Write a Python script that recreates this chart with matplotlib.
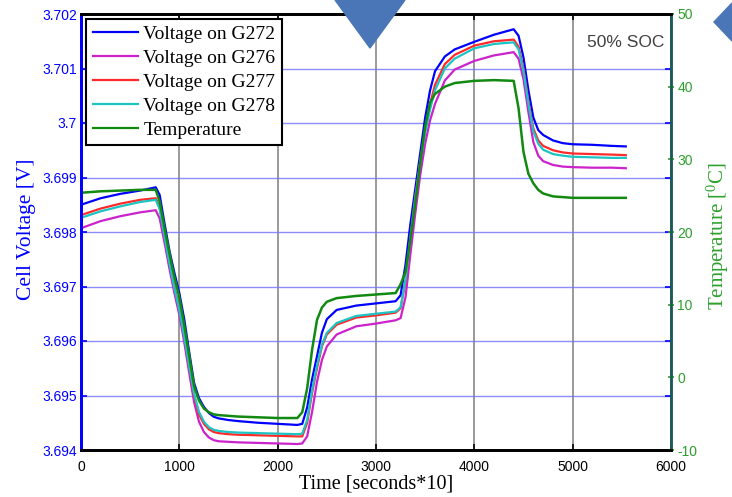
import matplotlib
matplotlib.use("Agg")
import matplotlib.pyplot as plt
from matplotlib.lines import Line2D
from matplotlib.patches import Polygon

# ---------------- data ----------------
time = [0, 200, 400, 600, 760, 800, 850, 900, 950, 1000, 1050, 1100, 1150, 1200,
        1250, 1300, 1350, 1400, 1500, 1600, 1800, 2000, 2200, 2250, 2300, 2350,
        2400, 2450, 2500, 2600, 2800, 3000, 3200, 3250, 3300, 3350, 3400, 3450,
        3500, 3550, 3600, 3700, 3800, 4000, 4200, 4400, 4450, 4500, 4550, 4600,
        4650, 4700, 4800, 4900, 5000, 5200, 5400, 5540]

v_g272 = [3.69850, 3.69862, 3.69870, 3.69876, 3.69882, 3.69868, 3.69815, 3.69765,
          3.69725, 3.69688, 3.69640, 3.69580, 3.69523, 3.69495, 3.69479, 3.69468,
          3.69461, 3.69458, 3.69455, 3.69453, 3.69450, 3.69448, 3.69446, 3.69448,
          3.69478, 3.69530, 3.69572, 3.69615, 3.69640, 3.69657, 3.69665, 3.69669,
          3.69673, 3.69684, 3.69740, 3.69815, 3.69880, 3.69945, 3.70010, 3.70060,
          3.70095, 3.70122, 3.70135, 3.70149, 3.70162, 3.70172, 3.70160, 3.70120,
          3.70060, 3.70010, 3.69987, 3.69978, 3.69968, 3.69963, 3.69961, 3.69960,
          3.69958, 3.69957]

v_g276 = [3.69807, 3.69820, 3.69829, 3.69836, 3.69840, 3.69825, 3.69780, 3.69732,
          3.69688, 3.69648, 3.69598, 3.69542, 3.69488, 3.69452, 3.69433, 3.69423,
          3.69418, 3.69416, 3.69415, 3.69414, 3.69413, 3.69412, 3.69411, 3.69412,
          3.69425, 3.69470, 3.69525, 3.69565, 3.69590, 3.69612, 3.69627, 3.69632,
          3.69638, 3.69642, 3.69680, 3.69760, 3.69835, 3.69905, 3.69962, 3.70005,
          3.70035, 3.70078, 3.70098, 3.70114, 3.70124, 3.70130, 3.70118, 3.70080,
          3.70020, 3.69965, 3.69940, 3.69930, 3.69923, 3.69920, 3.69919, 3.69918,
          3.69918, 3.69917]

v_g277 = [3.69831, 3.69843, 3.69852, 3.69859, 3.69862, 3.69845, 3.69795, 3.69745,
          3.69700, 3.69660, 3.69610, 3.69555, 3.69500, 3.69465, 3.69448, 3.69438,
          3.69433, 3.69431, 3.69429, 3.69428, 3.69427, 3.69426, 3.69425, 3.69425,
          3.69450, 3.69505, 3.69550, 3.69590, 3.69612, 3.69630, 3.69643, 3.69647,
          3.69652, 3.69660, 3.69710, 3.69790, 3.69865, 3.69930, 3.69988, 3.70035,
          3.70070, 3.70108, 3.70125, 3.70142, 3.70150, 3.70153, 3.70140, 3.70100,
          3.70040, 3.69990, 3.69968, 3.69958, 3.69950, 3.69946, 3.69944, 3.69943,
          3.69942, 3.69941]

v_g278 = [3.69826, 3.69838, 3.69847, 3.69855, 3.69859, 3.69842, 3.69792, 3.69742,
          3.69697, 3.69657, 3.69608, 3.69555, 3.69503, 3.69470, 3.69452, 3.69442,
          3.69437, 3.69435, 3.69433, 3.69432, 3.69431, 3.69430, 3.69429, 3.69430,
          3.69455, 3.69510, 3.69555, 3.69593, 3.69615, 3.69633, 3.69646, 3.69650,
          3.69654, 3.69662, 3.69712, 3.69790, 3.69862, 3.69928, 3.69982, 3.70025,
          3.70060, 3.70100, 3.70118, 3.70137, 3.70145, 3.70148, 3.70135, 3.70095,
          3.70035, 3.69985, 3.69962, 3.69951, 3.69943, 3.69940, 3.69938, 3.69937,
          3.69936, 3.69936]

temperature = [25.4, 25.6, 25.7, 25.8, 25.8, 24.2, 20.5, 17.0, 13.8, 11.0, 7.2, 3.0,
               -1.2, -3.2, -4.3, -4.8, -5.1, -5.2, -5.3, -5.4, -5.5, -5.6, -5.6, -4.8,
               -1.5, 3.8, 7.9, 9.6, 10.4, 10.9, 11.2, 11.4, 11.6, 12.8, 14.5, 19.0,
               24.0, 29.5, 34.5, 37.8, 39.0, 40.0, 40.5, 40.8, 40.9, 40.8, 37.0, 31.0,
               28.0, 26.7, 25.8, 25.3, 24.9, 24.8, 24.7, 24.7, 24.7, 24.7]

labels = ["Voltage on G272", "Voltage on G276", "Voltage on G277",
          "Voltage on G278", "Temperature"]
x_ticks = [0, 1000, 2000, 3000, 4000, 5000, 6000]
v_ticks = [3.694, 3.695, 3.696, 3.697, 3.698, 3.699, 3.700, 3.701, 3.702]
v_ticklabels = ["3.694", "3.695", "3.696", "3.697", "3.698", "3.699", "3.7",
                "3.701", "3.702"]
t_ticks = [-10, 0, 10, 20, 30, 40, 50]

# ---------------- style ----------------
C_BLUE = "#0000ff"
C_MAG = "#cc22cc"
C_RED = "#ff2a2a"
C_CYAN = "#1cc4c4"
C_GREEN = "#128a12"
C_TGREEN = "#2ca02c"
SERIF = ["Liberation Serif", "DejaVu Serif"]
SANS = ["Liberation Sans", "DejaVu Sans"]

fig = plt.figure(figsize=(7.32, 4.97), dpi=100)
ax = fig.add_axes([81 / 732, 47 / 497, 590 / 732, 436 / 497])
ax2 = ax.twinx()

lw = 1.6
ax.plot(time, v_g272, color=C_BLUE, lw=lw)
ax.plot(time, v_g276, color=C_MAG, lw=lw)
ax.plot(time, v_g277, color=C_RED, lw=lw)
ax.plot(time, v_g278, color=C_CYAN, lw=lw)
ax2.plot(time, temperature, color=C_GREEN, lw=lw + 0.2)

ax.set_xlim(0, 6000)
ax.set_ylim(3.694, 3.702)
ax2.set_ylim(-10, 50)

ax.set_xticks(x_ticks)
ax.set_xticklabels([str(v) for v in x_ticks], fontsize=10, family=SANS)
ax.set_yticks(v_ticks)
ax.set_yticklabels(v_ticklabels, fontsize=10, family=SANS, color=C_BLUE)
ax2.set_yticks(t_ticks)
ax2.set_yticklabels([str(v) for v in t_ticks], fontsize=10, family=SANS,
                    color=C_TGREEN)

# grids: grey vertical, blue horizontal
ax.set_axisbelow(True)
ax.xaxis.grid(True, color="#9a9a9a", lw=1.4)
ax.yaxis.grid(True, color="#7070ff", lw=1.0, alpha=0.8)

ax.tick_params(axis="x", direction="in", top=True, length=4, width=1.2, pad=7)
ax.tick_params(axis="y", direction="in", right=True, length=4, width=1.2,
               color=C_BLUE, pad=3)
ax2.tick_params(axis="y", direction="inout", length=5, width=1.2,
                color=C_TGREEN, pad=2)

for a in (ax, ax2):
    a.spines["top"].set_linewidth(2.0)
    a.spines["bottom"].set_linewidth(2.0)
    a.spines["left"].set_color(C_BLUE)
    a.spines["left"].set_linewidth(2.0)
    a.spines["right"].set_color("#1d5a5a")
    a.spines["right"].set_linewidth(1.8)

ax.set_xlabel("Time [seconds*10]", fontsize=14.5, family=SERIF, color="black")
ax.xaxis.set_label_coords(0.5, -0.056)
ax.set_ylabel("Cell Voltage [V]", fontsize=15.5, family=SERIF, color=C_BLUE)
ax.yaxis.set_label_coords(-0.077, 0.507)
ax2.set_ylabel(r"Temperature [$\mathregular{^0}$C]", fontsize=15, family=SERIF,
               color=C_TGREEN)
ax2.yaxis.set_label_coords(1.058, 0.49)

ax2.text(0.924, 0.935, "50% SOC", transform=ax.transAxes, fontsize=12.5,
         family=SANS, color="#404040", ha="center", va="center")

handles = [Line2D([], [], color=c, lw=lw) for c in
           (C_BLUE, C_MAG, C_RED, C_CYAN, C_GREEN)]
leg = ax2.legend(handles, labels, loc="upper left",
                 bbox_to_anchor=(0.0085, 0.989), borderaxespad=0,
                 prop={"family": SERIF, "size": 14}, fancybox=False,
                 framealpha=1, edgecolor="black", labelspacing=0.32,
                 handlelength=2.3, handletextpad=0.3, borderpad=0.35)
leg.get_frame().set_linewidth(1.5)

# decorative slide shapes at the top of the picture
fig.patches.append(Polygon([[335 / 732, 1.0], [405 / 732, 1.0], [370 / 732, 1 - 48 / 497]],
                           closed=True, transform=fig.transFigure,
                           color="#4a76b8", zorder=5))
fig.patches.append(Polygon([[714 / 732, 1 - 22 / 497], [732 / 732, 1 - 3 / 497],
                            [732 / 732, 1 - 41 / 497]],
                           closed=True, transform=fig.transFigure,
                           color="#4a76b8", zorder=5))

fig.savefig("out.png", dpi=100)
